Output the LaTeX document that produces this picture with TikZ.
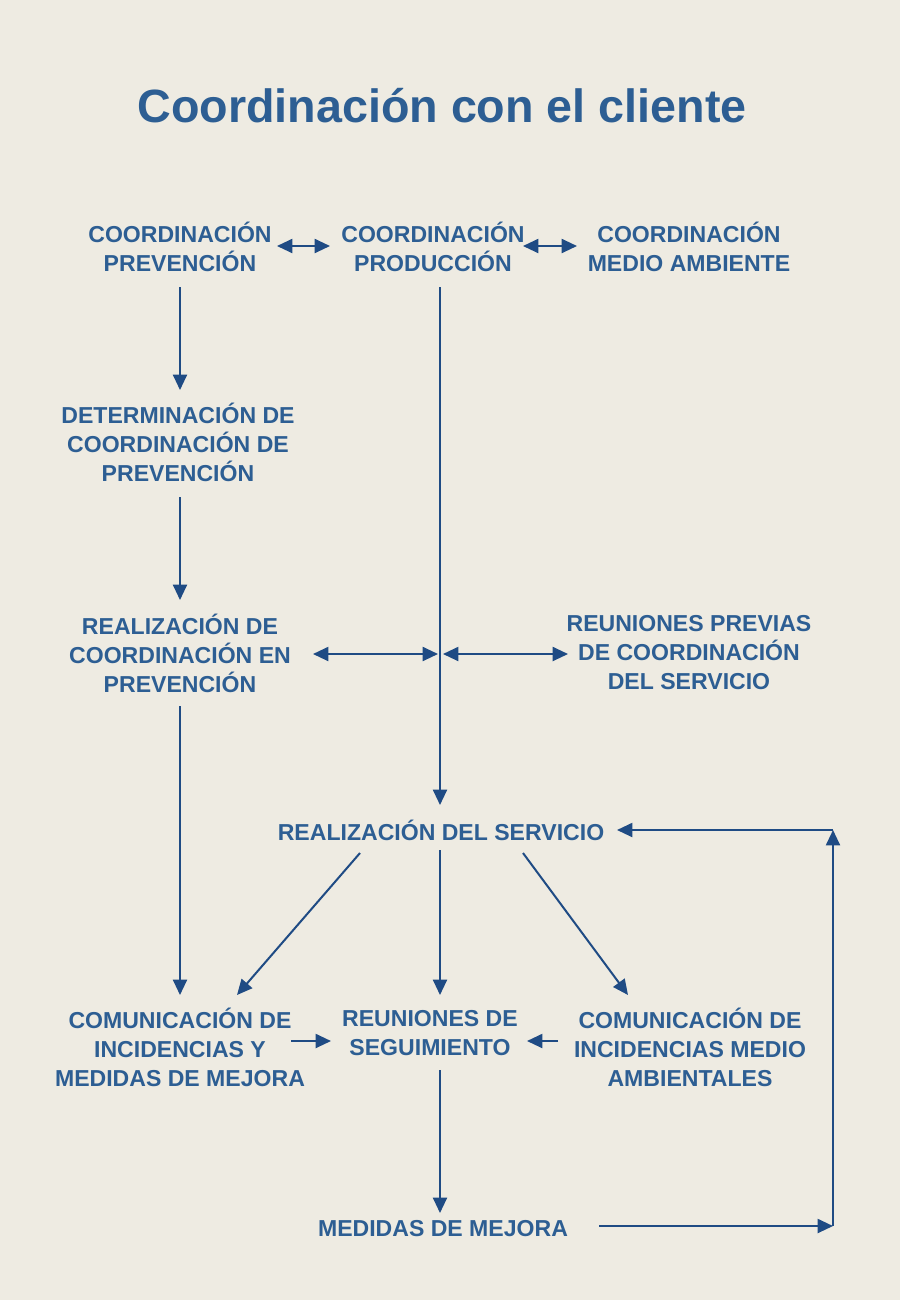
\documentclass[tikz,border=0pt]{standalone}
\usepackage{fontspec}
\setmainfont{Liberation Sans}
\usetikzlibrary{arrows.meta,calc}
\definecolor{bgc}{HTML}{EEEBE2}
\definecolor{txtc}{HTML}{2D5E93}
\definecolor{arrc}{HTML}{1F4B84}
\tikzset{
  lbl/.style={font=\bfseries\fontsize{17.3}{21.75}\selectfont, text=txtc, align=center, inner sep=0pt},
  ttl/.style={font=\bfseries\fontsize{35}{40}\selectfont, text=txtc, inner sep=0pt},
  conn/.style={draw=arrc, line width=1.5pt},
  arr/.style={conn, -{Triangle[length=11.5pt,width=10.5pt]}},
  dbl/.style={conn, {Triangle[length=11.5pt,width=10.5pt]}-{Triangle[length=11.5pt,width=10.5pt]}}
}
\begin{document}
\begin{tikzpicture}[x=0.75pt,y=-0.75pt]
\fill[bgc] (0,0) rectangle (900,1300);
\useasboundingbox (0,0) rectangle (900,1300);

\node[ttl] (title) at (442,106) {Coordinación con el cliente};

\node[lbl] (cp) at (180,247) {COORDINACIÓN\\PREVENCIÓN};
\node[lbl] (cprod) at (433,247) {COORDINACIÓN\\PRODUCCIÓN};
\node[lbl] (cma) at (689,247) {COORDINACIÓN\\MEDIO AMBIENTE};
\node[lbl] (det) at (178,442) {DETERMINACIÓN DE\\COORDINACIÓN DE\\PREVENCIÓN};
\node[lbl] (rcp) at (180,653) {REALIZACIÓN DE\\COORDINACIÓN EN\\PREVENCIÓN};
\node[lbl] (rpv) at (689,653) {REUNIONES PREVIAS\\DE COORDINACIÓN\\DEL SERVICIO};
\node[lbl] (serv) at (441,830) {REALIZACIÓN DEL SERVICIO};
\node[lbl] (cim) at (180,1047) {COMUNICACIÓN DE\\INCIDENCIAS Y\\MEDIDAS DE MEJORA};
\node[lbl] (rs) at (430,1033) {REUNIONES DE\\SEGUIMIENTO};
\node[lbl] (cia) at (690,1047) {COMUNICACIÓN DE\\INCIDENCIAS MEDIO\\AMBIENTALES};
\node[lbl] (mm) at (443,1229) {MEDIDAS DE MEJORA};

\coordinate (mid) at ($(serv.center |- rcp.center)+(-1,1)$);
\coordinate (c1) at ($(mm)+(390,-3)$);
\coordinate (c2) at ($(serv)+(392,0)$);

\draw[dbl] ($(cp)+(97,-1)$) -- ($(cprod)+(-103,-1)$);
\draw[dbl] ($(cprod)+(90,-1)$) -- ($(cma)+(-112,-1)$);
\draw[arr] ($(cp)+(0,40)$) -- ($(det)+(2,-52)$);
\draw[arr] ($(det)+(2,55)$) -- ($(rcp)+(0,-53)$);
\draw[arr] ($(cprod)+(7,40)$) -- ($(serv)+(-1,-25)$);
\draw[dbl] ($(rcp)+(133,1)$) -- ($(mid)+(-2,0)$);
\draw[dbl] ($(mid)+(3,0)$) -- ($(rpv)+(-121,1)$);
\draw[arr] ($(rcp)+(0,53)$) -- ($(cim)+(0,-52)$);
\draw[arr] ($(serv)+(-81,23)$) -- ($(cim)+(57,-52)$);
\draw[arr] ($(serv)+(-1,20)$) -- ($(rs)+(10,-38)$);
\draw[arr] ($(serv)+(82,23)$) -- ($(cia)+(-62,-52)$);
\draw[arr] ($(cim)+(111,-6)$) -- ($(rs)+(-99,8)$);
\draw[arr] ($(cia)+(-132,-6)$) -- ($(rs)+(97,8)$);
\draw[arr] ($(rs)+(10,37)$) -- ($(mm)+(-3,-16)$);
\draw[arr] ($(mm)+(156,-3)$) -- (c1);
\draw[arr] (c1) -- (c2);
\draw[arr] (c2) -- ($(serv)+(176,0)$);
\end{tikzpicture}
\end{document}
